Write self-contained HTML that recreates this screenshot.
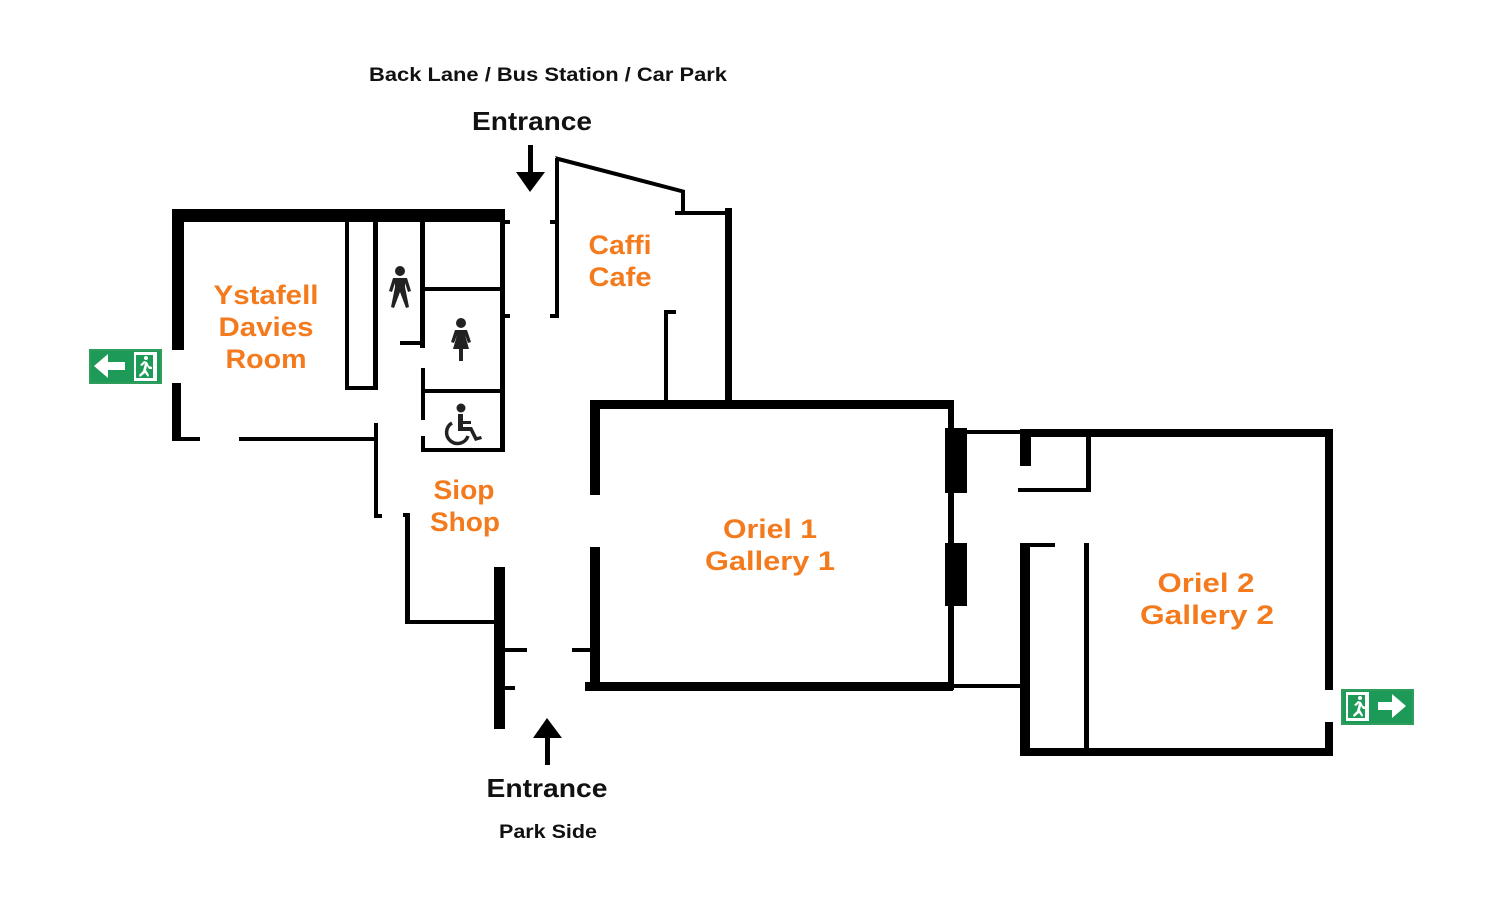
<!DOCTYPE html>
<html><head><meta charset="utf-8"><style>
html,body{margin:0;padding:0;background:#fff;width:1500px;height:900px;overflow:hidden}
svg{display:block}
.o{fill:#f47a1e;font-family:"Liberation Sans",sans-serif;font-weight:bold;font-size:27px;text-anchor:middle}
.k{fill:#111;font-family:"Liberation Sans",sans-serif;font-weight:bold;text-anchor:middle}
</style></head><body>
<svg width="1500" height="900" viewBox="0 0 1500 900" xmlns="http://www.w3.org/2000/svg">
<g fill="#000">
<!-- Ystafell room -->
<rect x="172" y="209" width="333" height="13"/>
<rect x="172" y="209" width="12" height="141"/>
<rect x="172" y="383" width="9" height="58"/>
<rect x="172" y="437" width="28" height="4"/>
<rect x="239" y="437" width="139" height="4"/>
<rect x="374" y="423" width="4" height="94"/>
<rect x="374" y="514" width="8" height="4"/>
<!-- closet -->
<rect x="345" y="222" width="4" height="168"/>
<rect x="373" y="222" width="5" height="168"/>
<rect x="345" y="386" width="33" height="4"/>
<!-- toilets -->
<rect x="420" y="222" width="5" height="126"/>
<rect x="400" y="341" width="25" height="4"/>
<rect x="421" y="368" width="4" height="52"/>
<rect x="421" y="436" width="4" height="16"/>
<rect x="422" y="287" width="80" height="4"/>
<rect x="422" y="389" width="80" height="4"/>
<rect x="500" y="222" width="5" height="230"/>
<rect x="421" y="448" width="84" height="4"/>
<rect x="505" y="220" width="5" height="4"/>
<rect x="505" y="314" width="5" height="4"/>
<!-- cafe -->
<rect x="555" y="158" width="4" height="160"/>
<rect x="550" y="220" width="6" height="4"/>
<rect x="550" y="314" width="6" height="4"/>
<polygon points="555,156 685,190 685,194 558,161"/>
<rect x="681" y="191" width="4" height="22"/>
<rect x="675" y="211" width="56" height="4"/>
<rect x="725" y="208" width="7" height="194"/>
<rect x="664" y="310" width="4" height="92"/>
<rect x="664" y="310" width="12" height="4"/>
<!-- gallery 1 -->
<rect x="590" y="400" width="363" height="9"/>
<rect x="590" y="400" width="10" height="95"/>
<rect x="590" y="547" width="10" height="143"/>
<rect x="585" y="682" width="368" height="9"/>
<rect x="572" y="648" width="20" height="4"/>
<rect x="948" y="400" width="6" height="290"/>
<rect x="945" y="428" width="22" height="65"/>
<rect x="945" y="543" width="22" height="63"/>
<!-- connectors -->
<rect x="967" y="430" width="55" height="4"/>
<rect x="952" y="684" width="70" height="4"/>
<!-- gallery 2 -->
<rect x="1020" y="429" width="312" height="8"/>
<rect x="1325" y="429" width="8" height="261"/>
<rect x="1325" y="722" width="8" height="34"/>
<rect x="1020" y="748" width="313" height="8"/>
<rect x="1020" y="429" width="11" height="37"/>
<rect x="1020" y="543" width="10" height="213"/>
<rect x="1020" y="543" width="35" height="4"/>
<rect x="1086" y="429" width="5" height="63"/>
<rect x="1018" y="488" width="73" height="4"/>
<rect x="1084" y="543" width="5" height="207"/>
<!-- shop -->
<rect x="405" y="513" width="5" height="111"/>
<rect x="403" y="513" width="7" height="4"/>
<rect x="405" y="620" width="92" height="4"/>
<rect x="494" y="567" width="11" height="162"/>
<rect x="505" y="648" width="22" height="4"/>
<rect x="505" y="686" width="10" height="4"/>
<!-- arrows -->
<rect x="528" y="145" width="5" height="30"/>
<polygon points="516,172 545,172 530,192"/>
<rect x="545" y="735" width="5" height="30"/>
<polygon points="533,738 562,738 547,718"/>
</g>
<!-- icons -->
<g fill="#222">
<circle cx="400" cy="271" r="5"/>
<path d="M393 278 h14 l4 13 -3 1 -3 -9 v4 l4 20 -3 1 -6 -16 -6 16 -3 -1 4 -20 v-4 l-3 9 -3 -1z"/>
<circle cx="461" cy="323" r="5"/>
<path d="M455 330 h12 l4 12 -3 1 -3 -8 4 14 h-6 v12 h-4 v-12 h-6 l4 -14 -3 8 -3 -1z"/>
<circle cx="461" cy="408" r="4.5"/>
<path d="M458 414 h5 v7 h8 v3 h-8 v3 h9 l5 10 4 -1 1 3 -7 2 -5 -10 h-12z"/>
<path d="M452 423 a11 11 0 1 0 16 13" fill="none" stroke="#222" stroke-width="3.5"/>
</g>
<!-- exit signs -->
<g>
<rect x="89" y="349" width="73" height="35" fill="#2f9e5c"/>
<rect x="91" y="351" width="69" height="31" fill="#1e9a58"/>
<polygon points="94,366 108,354 108,362 125,362 125,370 108,370 108,378" fill="#fff"/>
<rect x="134" y="352" width="23" height="29" fill="#fff"/>
<rect x="136" y="355" width="17" height="23" fill="#1e9a58"/>
<circle cx="146" cy="358" r="2" fill="#fff"/>
<path d="M144 361 l-4 4 2 1 3 -3 -2 8 -4 4 1 2 5 -4 3 4 1 -2 -3 -5 1 -4 2 3 3 0 0 -2 -3 -1 -2 -4z" fill="#fff"/>
<rect x="1341" y="689" width="73" height="36" fill="#2f9e5c"/>
<rect x="1343" y="691" width="69" height="32" fill="#1e9a58"/>
<polygon points="1406,706 1392,694 1392,702 1378,702 1378,710 1392,710 1392,718" fill="#fff"/>
<rect x="1346" y="692" width="23" height="29" fill="#fff"/>
<rect x="1348" y="695" width="17" height="23" fill="#1e9a58"/>
<circle cx="1360" cy="698" r="2" fill="#fff"/>
<path d="M1358 701 l-4 4 2 1 3 -3 -2 8 -4 4 1 2 5 -4 3 4 1 -2 -3 -5 1 -4 2 3 3 0 0 -2 -3 -1 -2 -4z" fill="#fff"/>
</g>
<!-- text -->
<text class="k" x="548" y="81" font-size="19" textLength="358" lengthAdjust="spacingAndGlyphs">Back Lane / Bus Station / Car Park</text>
<text class="k" x="532" y="130" font-size="26" textLength="120" lengthAdjust="spacingAndGlyphs">Entrance</text>
<text class="k" x="547" y="797" font-size="26" textLength="121" lengthAdjust="spacingAndGlyphs">Entrance</text>
<text class="k" x="548" y="838" font-size="19" textLength="98" lengthAdjust="spacingAndGlyphs">Park Side</text>
<text class="o" x="266" y="304" textLength="105" lengthAdjust="spacingAndGlyphs">Ystafell</text>
<text class="o" x="266" y="336" textLength="95" lengthAdjust="spacingAndGlyphs">Davies</text>
<text class="o" x="266" y="368" textLength="81" lengthAdjust="spacingAndGlyphs">Room</text>
<text class="o" x="620" y="254" textLength="63" lengthAdjust="spacingAndGlyphs">Caffi</text>
<text class="o" x="620" y="286" textLength="63" lengthAdjust="spacingAndGlyphs">Cafe</text>
<text class="o" x="464" y="499" textLength="61" lengthAdjust="spacingAndGlyphs">Siop</text>
<text class="o" x="465" y="531" textLength="70" lengthAdjust="spacingAndGlyphs">Shop</text>
<text class="o" x="770" y="538" textLength="94" lengthAdjust="spacingAndGlyphs">Oriel 1</text>
<text class="o" x="770" y="570" textLength="130" lengthAdjust="spacingAndGlyphs">Gallery 1</text>
<text class="o" x="1206" y="592" textLength="97" lengthAdjust="spacingAndGlyphs">Oriel 2</text>
<text class="o" x="1207" y="624" textLength="134" lengthAdjust="spacingAndGlyphs">Gallery 2</text>
</svg>
</body></html>
